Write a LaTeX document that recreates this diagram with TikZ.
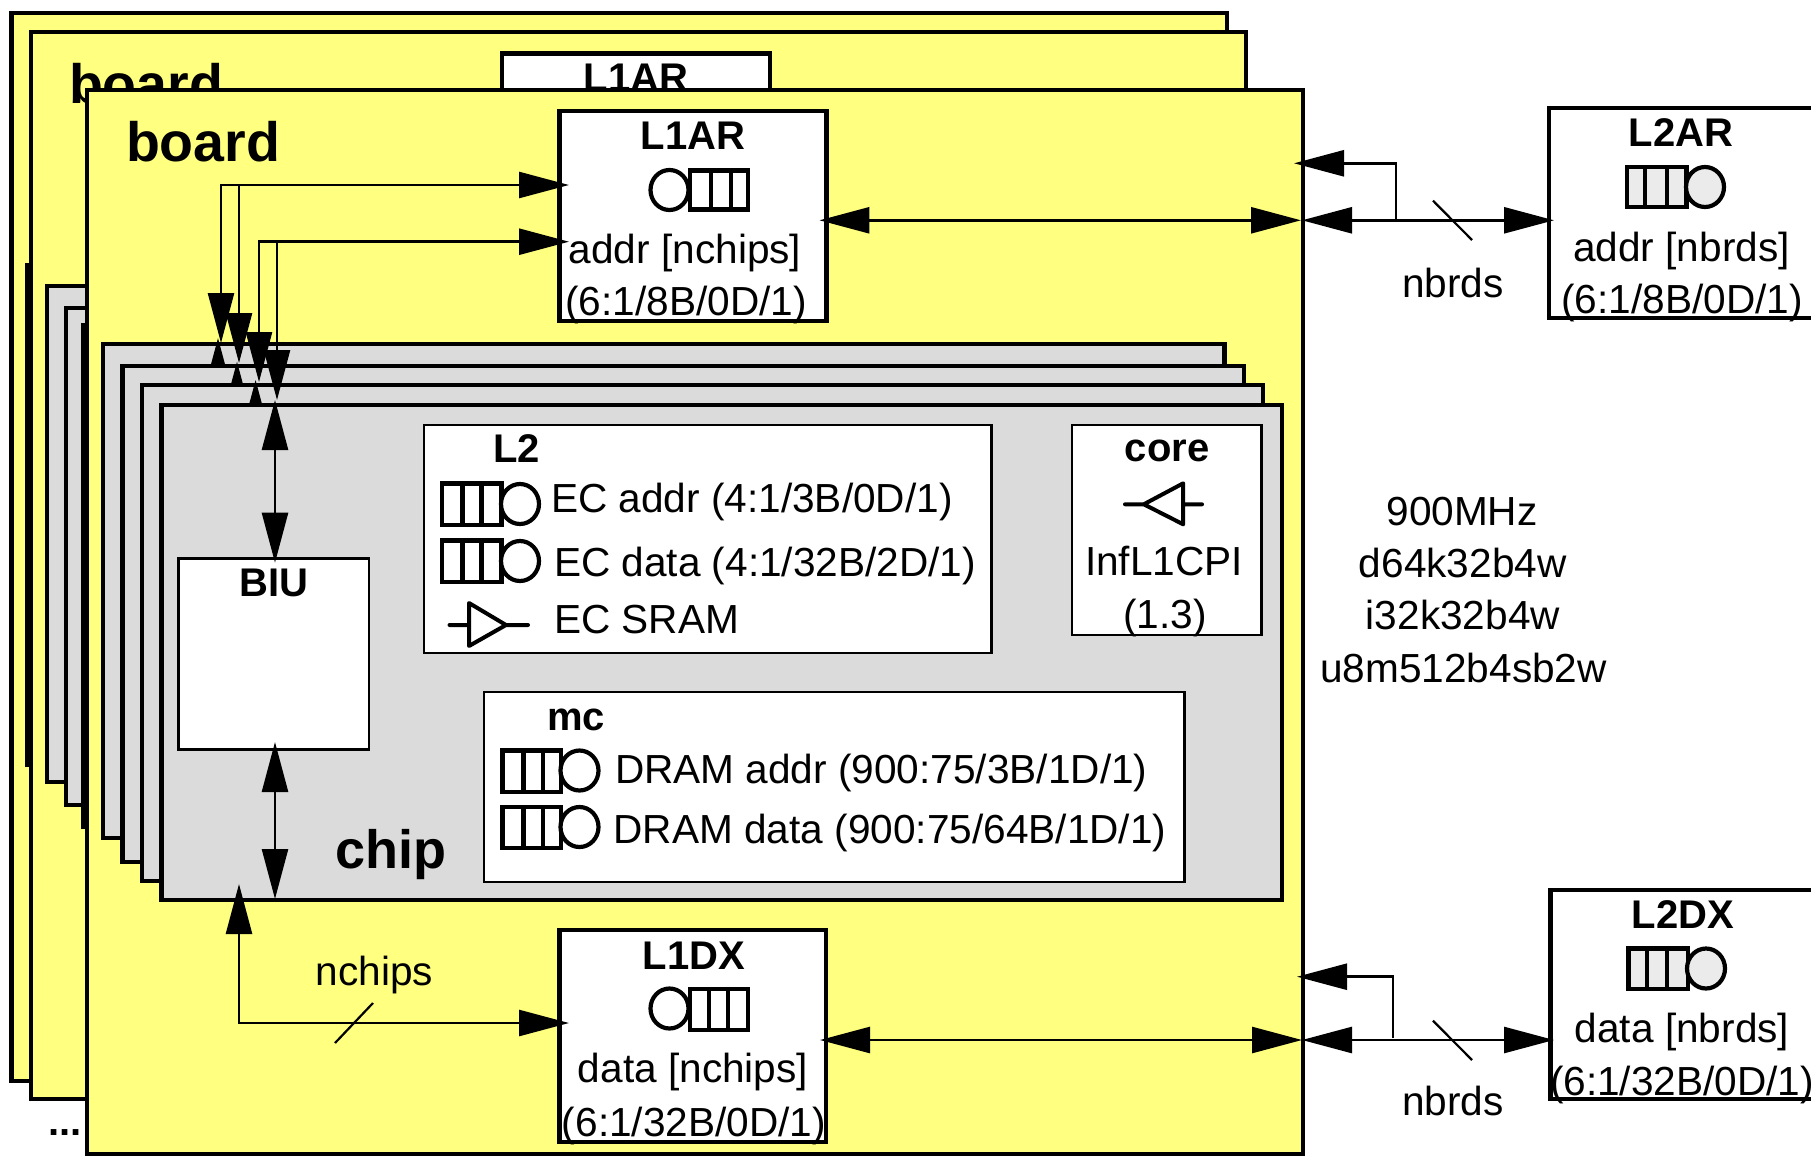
\documentclass[tikz,border=0pt]{standalone}
\usepackage{fontspec}
\setmainfont{Liberation Sans}
\usetikzlibrary{arrows.meta}
\definecolor{boardyellow}{HTML}{FFFF80}
\definecolor{chipgray}{HTML}{DBDBDB}
\definecolor{symgray}{HTML}{EBEBEB}
\tikzset{
  boxbase/.style={draw=black,rectangle,inner sep=0pt,outer sep=0pt,anchor=north west},
  boardbox/.style={boxbase,fill=boardyellow,line width=4.2pt},
  chipbox/.style={boxbase,fill=chipgray,line width=4.2pt},
  heavybox/.style={boxbase,fill=white,line width=4.4pt},
  thinbox/.style={boxbase,fill=white,line width=2.4pt},
  txt/.style={anchor=base,inner sep=0pt,outer sep=0pt,font=\fontsize{40.6}{48}\selectfont},
  txtw/.style={txt,anchor=base west},
  lab/.style={anchor=base,inner sep=0pt,outer sep=0pt,font=\fontsize{40}{46}\selectfont\bfseries},
  biglab/.style={anchor=base,inner sep=0pt,outer sep=0pt,font=\fontsize{54}{64}\selectfont\bfseries},
  boardlabel/.style={biglab,anchor=base west,font=\fontsize{55.5}{64}\selectfont\bfseries},
  wire/.style={line width=2.6pt,draw=black},
  slash/.style={line width=2.2pt,draw=black},
  tofwd/.style={wire,-{Triangle[length=50pt,width=26pt]}},
  toboth/.style={wire,{Triangle[length=50pt,width=26pt]}-{Triangle[length=50pt,width=26pt]}},
  sym/.style={line width=4.2pt,draw=black,line join=miter},
  triangsym/.style={line width=4pt,draw=black,line cap=round,line join=round},
}
\newcommand{\queuesym}[9]{%
  \draw[sym,fill=#9] (#1,#2) rectangle (#3,#4) (#5,#2) -- (#5,#4) (#6,#2) -- (#6,#4);
  \draw[sym,fill=#9] (#7,#8) ellipse [x radius=19pt,y radius=20pt];
}
\begin{document}
\begin{tikzpicture}[x=1pt,y=-1pt]
\useasboundingbox (0,0) rectangle (1811,1156);
\clip (0,0) rectangle (1811,1156);
\fill[white] (0,0) rectangle (1811,1156);

% ---------- boards and chips behind
\node[boardbox,minimum width=1215.5pt,minimum height=1068pt] (board1) at (11.5,12.7) {};
\node[chipbox,minimum width=100pt,minimum height=500pt] (chipA) at (27.5,265) {};
\node[boardbox,minimum width=1215.5pt,minimum height=1067pt] (board2) at (30.6,32) {};
\node[boardlabel] (boardbacklab) at (69,103.8) {board};
\node[heavybox,minimum width=268pt,minimum height=210pt] (l1arback) at (502,53.5) {};
\node[lab] (l1arbacklab) at (636,91) {L1AR};
\node[chipbox,minimum width=200pt,minimum height=496pt] (chipB) at (46.7,286) {};
\node[chipbox,minimum width=200pt,minimum height=497pt] (chipC) at (66,308) {};
\node[chipbox,minimum width=200pt,minimum height=502pt] (chipD) at (83.4,325) {};

% ---------- front board
\node[boardbox,minimum width=1216pt,minimum height=1064pt] (board3) at (87,90) {};
\node[boardlabel] (boardlab) at (126,161) {board};

% ---------- chip stack
\coordinate (upa) at (218,338); \coordinate (upab) at (218,420);
\coordinate (upb) at (237,361.6); \coordinate (upbb) at (237,440);
\coordinate (upc) at (255.6,380); \coordinate (upcb) at (255.6,460);
\node[chipbox,minimum width=1121.2pt,minimum height=494.3pt] (chip1) at (103.3,344) {};
\draw[tofwd] (upab) -- (upa);
\node[chipbox,minimum width=1121.5pt,minimum height=496pt] (chip2) at (122.5,366) {};
\draw[tofwd] (upbb) -- (upb);
\node[chipbox,minimum width=1121.4pt,minimum height=496pt] (chip3) at (141.6,385) {};
\draw[tofwd] (upcb) -- (upc);
\node[chipbox,minimum width=1120.5pt,minimum height=495.3pt] (chip4) at (161.5,404.7) {};
\node[biglab] (chiplab) at (390.5,868) {chip};

% ---------- L2
\node[thinbox,minimum width=567.6pt,minimum height=228pt] (l2) at (423.8,425) {};
\node[lab,anchor=base west] (l2lab) at (493,462.7) {L2};
\queuesym{442}{483.5}{501.5}{525}{462.5}{481.5}{520}{504}{white}
\node[txtw] (ecaddr) at (551,512.7) {EC addr (4:1/3B/0D/1)};
\queuesym{442}{540.5}{501.5}{582}{462.5}{481.5}{520}{561}{white}
\node[txtw] (ecdata) at (554,576.7) {EC data (4:1/32B/2D/1)};
\draw[triangsym] (449.5,625) -- (469,625) (469,603) -- (469,646) -- (506,625) -- cycle (506,625) -- (528,625);
\node[txtw] (ecsram) at (554,633) {EC SRAM};

% ---------- core
\node[thinbox,minimum width=189.8pt,minimum height=210pt] (core) at (1071.8,425) {};
\node[lab] (corelab) at (1167,461.7) {core};
\draw[triangsym] (1125,504.3) -- (1143.8,504.3) (1143.8,504.3) -- (1183.2,483.3) -- (1183.2,524.3) -- cycle (1183.2,504.3) -- (1202,504.3);
\node[txt] (inf) at (1164,575.7) {InfL1CPI};
\node[txt] (infv) at (1164.8,628.3) {(1.3)};

% ---------- mc
\node[thinbox,minimum width=700.6pt,minimum height=190pt] (mc) at (483.8,692) {};
\node[lab,anchor=base west] (mclab) at (547,730) {mc};
\queuesym{502.5}{750.5}{561}{791.7}{523.5}{543}{579.5}{770.5}{white}
\node[txtw] (dramaddr) at (615,783) {DRAM addr (900:75/3B/1D/1)};
\queuesym{502.5}{807}{561}{848}{523.5}{543}{579.5}{827}{white}
\node[txtw] (dramdata) at (613.5,843) {DRAM data (900:75/64B/1D/1)};

% ---------- BIU
\node[thinbox,minimum width=190.4pt,minimum height=191pt] (biu) at (178.3,558.3) {};
\node[lab] (biulab) at (274,596.7) {BIU};
\coordinate (biutopa) at (275,400); \coordinate (biutopb) at (275,562.7);
\coordinate (biubota) at (275,742); \coordinate (biubotb) at (275,899);
\draw[toboth] (biutopa) -- (biutopb);
\draw[toboth] (biubota) -- (biubotb);

% ---------- L1AR
\node[heavybox,minimum width=267pt,minimum height=210pt] (l1ar) at (559.5,111) {};
\node[lab] (l1arlab) at (693,149) {L1AR};
\queuesym{690}{170.5}{748}{209.5}{711}{731}{669.5}{190}{white}
\node[txt] (l1artxt) at (685,263) {addr [nchips]};
\node[txt] (l1arspec) at (686,315.5) {(6:1/8B/0D/1)};

% ---------- L1DX
\node[heavybox,minimum width=266.5pt,minimum height=211.7pt] (l1dx) at (559.5,930) {};
\node[lab] (l1dxlab) at (693.8,969) {L1DX};
\queuesym{690}{989}{748}{1030}{709}{728}{669.5}{1008.5}{white}
\node[txt] (l1dxtxt) at (693,1082.5) {data [nchips]};
\node[txt] (l1dxspec) at (694,1136) {(6:1/32B/0D/1)};

% ---------- L2AR
\node[heavybox,minimum width=300pt,minimum height=210pt] (l2ar) at (1549,108) {};
\node[lab] (l2arlab) at (1681,146.7) {L2AR};
\queuesym{1627}{167}{1686.5}{207}{1645}{1667}{1705}{187}{symgray}
\node[txt] (l2artxt) at (1681.5,261) {addr [nbrds]};
\node[txt] (l2arspec) at (1682,313) {(6:1/8B/0D/1)};

% ---------- L2DX
\node[heavybox,minimum width=300pt,minimum height=209pt] (l2dx) at (1550.5,890) {};
\node[lab] (l2dxlab) at (1683,928) {L2DX};
\queuesym{1628.5}{948.5}{1688}{989}{1647}{1667}{1706}{968.5}{symgray}
\node[txt] (l2dxtxt) at (1682,1042.5) {data [nbrds]};
\node[txt] (l2dxspec) at (1682,1095) {(6:1/32B/0D/1)};

% ---------- free texts
\node[txt] (freq) at (1462,525) {900MHz};
\node[txt] (dcache) at (1462.7,577) {d64k32b4w};
\node[txt] (icache) at (1463,629.5) {i32k32b4w};
\node[txt] (ucache) at (1463.5,682) {u8m512b4sb2w};
\node[txt] (nchipslab) at (374.5,985) {nchips};
\node[txt] (nbrdsa) at (1453,297) {nbrds};
\node[txt] (nbrdsb) at (1453,1115) {nbrds};
\node[lab,anchor=base west] (dots) at (48,1135) {...};

% ---------- address connectors on the board
\coordinate (tipa) at (221,343); \coordinate (tipb) at (239,363);
\coordinate (tipc) at (259,382); \coordinate (tipd) at (277,400);
\coordinate (l1ina) at (569,185); \coordinate (l1inb) at (569,241.7);
\coordinate (juna) at (239,185); \coordinate (junb) at (277,241.7);
\draw[toboth] (tipa) |- (l1ina);
\draw[tofwd] (juna) -- (tipb);
\draw[toboth] (tipc) |- (l1inb);
\draw[tofwd] (junb) -- (tipd);

% ---------- data connector on the board
\coordinate (chipdata) at (239,884); \coordinate (l1dxin) at (569,1023);
\draw[toboth] (chipdata) |- (l1dxin);
\coordinate (slashda) at (335,1043); \coordinate (slashdb) at (373,1003);
\draw[slash] (slashda) -- (slashdb);

% ---------- L1 to board edge
\coordinate (l1arout) at (819.4,220.3); \coordinate (edgea) at (1301,220.3);
\draw[toboth] (l1arout) -- (edgea);
\coordinate (l1dxout) at (820,1040); \coordinate (edged) at (1302,1040);
\draw[toboth] (l1dxout) -- (edged);

% ---------- board edge to L2
\coordinate (edgeaout) at (1302,220.3); \coordinate (l2arin) at (1554,220.3);
\draw[toboth] (edgeaout) -- (l2arin);
\coordinate (edgeaup) at (1294,163.3); \coordinate (juntopa) at (1396,220.3);
\draw[tofwd] (juntopa) |- (edgeaup);
\coordinate (slashaa) at (1433,200.7); \coordinate (slashab) at (1472,240);
\draw[slash] (slashaa) -- (slashab);

\coordinate (edgedout) at (1302,1040); \coordinate (l2dxin) at (1554,1040);
\draw[toboth] (edgedout) -- (l2dxin);
\coordinate (edgedup) at (1297,976.7); \coordinate (juntopd) at (1393,1038);
\draw[tofwd] (juntopd) |- (edgedup);
\coordinate (slashba) at (1433,1020.7); \coordinate (slashbb) at (1472,1060);
\draw[slash] (slashba) -- (slashbb);
\end{tikzpicture}
\end{document}
